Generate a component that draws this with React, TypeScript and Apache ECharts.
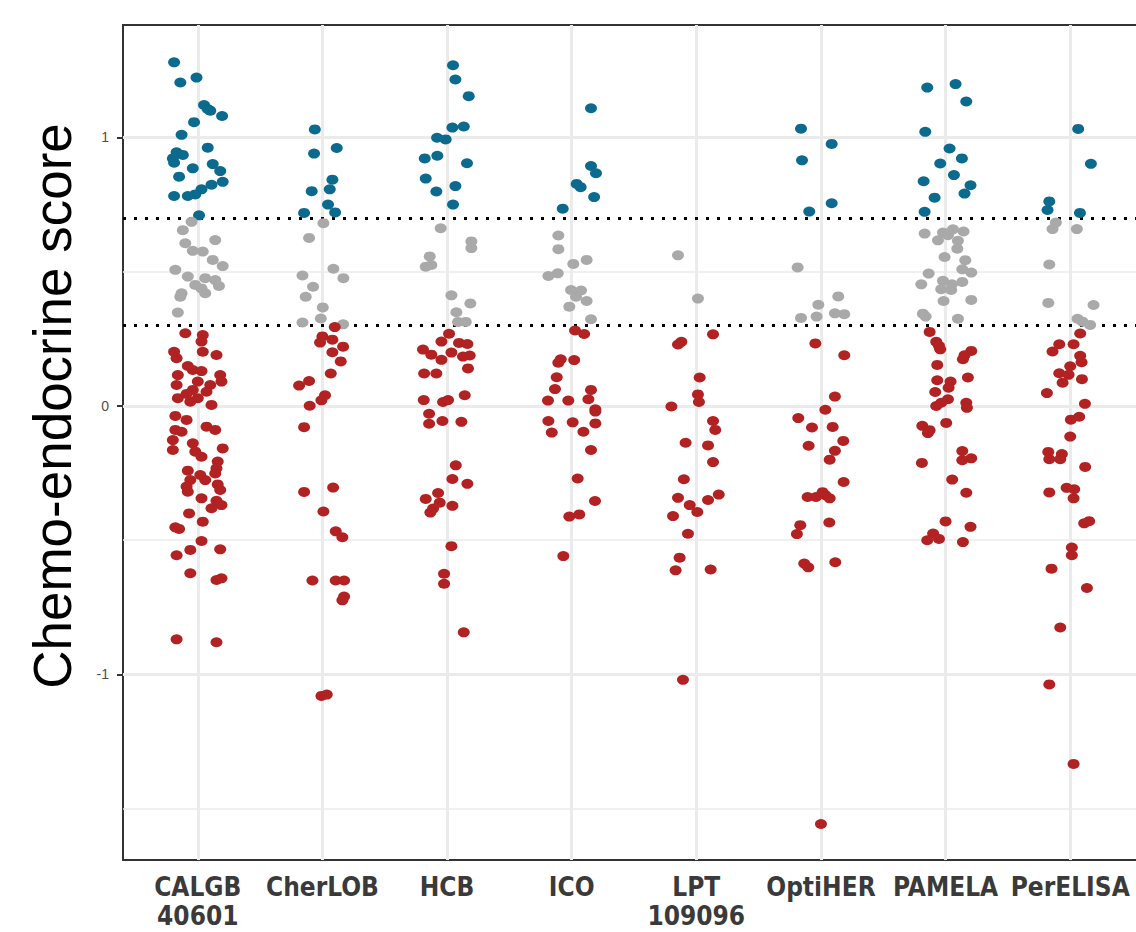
import React, { useEffect, useRef } from "react";
import * as echarts from "echarts";

// Study names (x categories)
const studies = ["CALGB\n40601", "CherLOB", "HCB", "ICO", "LPT\n109096", "OptiHER", "PAMELA", "PerELISA"];
const categoryPositions = [1, 2, 3, 4, 5, 6, 7, 8];

// Y axis
const yTicks = [-1, 0, 1];
const yMinorGrid = [-1.5, -0.5, 0.5];
const yRange = [-1.691, 1.419];
const xRange = [0.4, 8.6];
const cutoffs = [0.3, 0.7];
const yTitle = "Chemo-endocrine score";

// Each point: [horizontal jitter (in category units), chemo-endocrine score]
const calgb: number[][] = [
  [-0.19, 1.28], [-0.14, 1.205], [-0.01, 1.223], [0.05, 1.121], [0.08, 1.106], [0.10, 1.10], [0.195, 1.08],
  [-0.03, 1.057], [-0.13, 1.01], [0.08, 0.962], [-0.17, 0.945], [-0.12, 0.935], [-0.20, 0.922], [-0.19, 0.906],
  [0.12, 0.901], [-0.04, 0.885], [0.18, 0.875], [-0.15, 0.854], [0.20, 0.835], [0.11, 0.824], [0.03, 0.807],
  [-0.02, 0.788], [-0.08, 0.782], [-0.19, 0.782], [0.01, 0.71],
  [-0.05, 0.686], [-0.12, 0.655], [0.14, 0.618], [-0.10, 0.606], [-0.04, 0.578], [0.04, 0.575], [0.12, 0.544],
  [0.20, 0.521], [-0.18, 0.507], [-0.08, 0.482], [0.06, 0.476], [0.14, 0.469], [-0.02, 0.451], [0.17, 0.447],
  [0.03, 0.438], [-0.13, 0.42], [0.06, 0.42], [-0.14, 0.407], [-0.16, 0.348],
  [-0.10, 0.271], [0.04, 0.264], [0.03, 0.24], [-0.19, 0.202], [0.04, 0.202], [0.15, 0.19], [-0.17, 0.178],
  [-0.08, 0.149], [-0.04, 0.134], [0.03, 0.13], [0.18, 0.115], [-0.16, 0.115], [0.00, 0.091], [0.19, 0.091],
  [-0.17, 0.078], [0.10, 0.078], [-0.04, 0.06], [0.07, 0.053], [-0.09, 0.045], [-0.16, 0.029], [0.00, 0.029],
  [0.11, 0.004], [-0.06, 0.016], [-0.18, -0.037], [-0.09, -0.052], [-0.18, -0.089], [-0.13, -0.096],
  [0.07, -0.077], [0.14, -0.089], [-0.20, -0.127], [-0.04, -0.139], [0.20, -0.158], [-0.20, -0.164],
  [-0.02, -0.17], [0.03, -0.189], [0.16, -0.207], [0.15, -0.232], [-0.08, -0.241], [0.14, -0.251],
  [0.02, -0.257], [0.06, -0.276], [-0.06, -0.276], [0.16, -0.292], [-0.09, -0.30], [0.18, -0.313],
  [-0.08, -0.319], [0.03, -0.344], [0.15, -0.353], [0.19, -0.369], [0.11, -0.381], [-0.07, -0.40],
  [0.04, -0.431], [-0.18, -0.452], [-0.15, -0.458], [0.03, -0.503], [-0.06, -0.536], [0.18, -0.534],
  [-0.17, -0.556], [-0.06, -0.623], [0.15, -0.648], [0.19, -0.642], [-0.17, -0.869], [0.15, -0.88],
];

const cherlob: number[][] = [
  [-0.061, 1.03], [0.115, 0.961], [-0.067, 0.94], [0.08, 0.843], [-0.086, 0.80], [0.059, 0.807], [0.045, 0.75],
  [0.102, 0.721], [-0.147, 0.719],
  [0.008, 0.681], [-0.107, 0.626], [0.088, 0.511], [-0.16, 0.486], [0.168, 0.476], [-0.075, 0.444],
  [-0.134, 0.407], [0.003, 0.367], [-0.013, 0.326], [-0.16, 0.311], [0.166, 0.304],
  [0.099, 0.294], [0.0, 0.259], [0.08, 0.247], [-0.019, 0.236], [0.166, 0.221], [0.08, 0.20], [0.147, 0.166],
  [0.067, 0.121], [-0.107, 0.093], [-0.187, 0.076], [0.021, 0.04], [-0.008, 0.021], [-0.102, 0.001],
  [-0.147, -0.079], [0.086, -0.304], [-0.147, -0.32], [0.008, -0.393], [0.107, -0.467], [0.16, -0.489],
  [-0.08, -0.65], [0.107, -0.65], [0.174, -0.65], [0.174, -0.71], [0.16, -0.724], [-0.008, -1.08], [0.035, -1.075],
];

const hcb: number[][] = [
  [0.048, 1.269], [0.067, 1.216], [0.174, 1.154], [0.043, 1.037], [0.134, 1.041], [-0.08, 0.999], [-0.011, 0.993],
  [-0.179, 0.922], [-0.078, 0.932], [0.16, 0.904], [-0.171, 0.847], [-0.086, 0.799], [0.067, 0.819], [0.048, 0.75],
  [-0.051, 0.662], [0.195, 0.613], [0.195, 0.588], [-0.139, 0.557], [-0.171, 0.519], [-0.126, 0.525],
  [0.035, 0.412], [0.187, 0.382], [0.075, 0.349], [0.088, 0.313], [0.15, 0.313],
  [0.016, 0.269], [-0.045, 0.24], [0.096, 0.235], [0.163, 0.231], [-0.193, 0.21], [-0.126, 0.191], [0.035, 0.199],
  [-0.045, 0.172], [0.182, 0.188], [0.128, 0.184], [-0.184, 0.121], [-0.086, 0.121], [0.168, 0.14],
  [-0.187, 0.022], [-0.032, 0.015], [0.008, 0.022], [0.142, 0.04], [-0.144, -0.029], [-0.144, -0.066],
  [-0.037, -0.056], [0.115, -0.059], [0.07, -0.221], [0.043, -0.272], [0.163, -0.29], [-0.072, -0.324],
  [-0.171, -0.346], [-0.059, -0.36], [-0.112, -0.382], [0.043, -0.372], [-0.134, -0.397], [0.035, -0.522],
  [-0.024, -0.625], [-0.024, -0.662], [0.134, -0.843],
];

const ico: number[][] = [
  [0.155, 1.109], [0.155, 0.894], [0.195, 0.867], [0.04, 0.827], [0.072, 0.815], [0.18, 0.778], [-0.072, 0.735],
  [-0.107, 0.635], [-0.107, 0.584], [0.12, 0.544], [0.013, 0.529], [-0.112, 0.494], [-0.187, 0.484],
  [-0.005, 0.432], [0.075, 0.43], [0.035, 0.407], [0.12, 0.391], [-0.019, 0.37], [0.155, 0.323],
  [0.027, 0.281], [0.10, 0.268], [-0.088, 0.174], [-0.107, 0.161], [0.02, 0.171], [-0.12, 0.107],
  [-0.134, 0.063], [0.155, 0.06], [-0.19, 0.02], [-0.027, 0.02], [0.134, 0.025], [0.19, -0.012], [0.19, -0.021],
  [-0.187, -0.056], [0.008, -0.061], [0.19, -0.065], [-0.16, -0.099], [0.094, -0.096], [0.155, -0.164],
  [0.048, -0.27], [0.187, -0.354], [0.061, -0.404], [-0.019, -0.412], [-0.067, -0.559],
];

const lpt: number[][] = [
  [-0.147, 0.561], [0.013, 0.40],
  [0.134, 0.267], [-0.12, 0.239], [-0.147, 0.229], [0.027, 0.106], [0.013, 0.043], [0.021, 0.015],
  [-0.20, -0.002], [0.134, -0.056], [0.152, -0.089], [-0.086, -0.137], [0.094, -0.147], [0.134, -0.209],
  [-0.10, -0.273], [-0.147, -0.342], [-0.053, -0.369], [0.094, -0.35], [0.18, -0.33], [0.008, -0.395],
  [-0.187, -0.41], [-0.067, -0.476], [-0.134, -0.565], [-0.166, -0.612], [0.115, -0.609], [-0.107, -1.02],
];

const optiher: number[][] = [
  [-0.16, 1.033], [0.086, 0.976], [-0.152, 0.915], [0.086, 0.755], [-0.094, 0.724],
  [-0.187, 0.516], [0.139, 0.408], [-0.021, 0.377], [-0.16, 0.328], [-0.035, 0.333], [0.112, 0.345], [0.187, 0.342],
  [-0.045, 0.233], [0.187, 0.189], [0.112, 0.035], [0.035, -0.014], [-0.182, -0.045], [-0.072, -0.08],
  [0.094, -0.078], [0.179, -0.13], [-0.099, -0.148], [0.112, -0.167], [0.07, -0.20], [0.182, -0.283],
  [-0.107, -0.339], [-0.04, -0.339], [0.013, -0.321], [0.035, -0.332], [0.07, -0.344], [0.067, -0.434],
  [-0.166, -0.444], [-0.193, -0.477], [-0.134, -0.587], [-0.102, -0.601], [0.115, -0.582], [0.0, -1.557],
];

const pamela: number[][] = [
  [-0.147, 1.186], [0.08, 1.199], [0.166, 1.134], [-0.163, 1.021], [0.032, 0.959], [-0.043, 0.903], [0.131, 0.922],
  [0.067, 0.86], [-0.176, 0.837], [0.20, 0.822], [0.152, 0.791], [-0.088, 0.776], [-0.168, 0.723],
  [-0.168, 0.642], [-0.021, 0.646], [0.059, 0.658], [0.144, 0.65], [-0.061, 0.617], [0.019, 0.636],
  [0.099, 0.615], [0.094, 0.586], [-0.008, 0.555], [0.158, 0.543], [0.134, 0.509], [0.206, 0.497],
  [-0.136, 0.493], [-0.195, 0.453], [-0.021, 0.466], [0.051, 0.453], [0.134, 0.462], [-0.035, 0.435],
  [0.045, 0.432], [-0.016, 0.391], [0.206, 0.395], [-0.182, 0.344], [-0.16, 0.333], [0.099, 0.325],
  [-0.128, 0.276], [-0.075, 0.239], [-0.053, 0.224], [-0.043, 0.211], [0.206, 0.205], [0.152, 0.189],
  [0.139, 0.174], [-0.067, 0.153], [0.179, 0.106], [-0.067, 0.096], [0.04, 0.091], [0.024, 0.068],
  [-0.083, 0.052], [0.019, 0.025], [-0.035, 0.012], [-0.075, 0.0], [0.166, 0.012], [0.171, -0.007],
  [0.005, -0.063], [-0.187, -0.074], [-0.142, -0.101], [-0.128, -0.09], [0.134, -0.168], [0.134, -0.202],
  [0.206, -0.195], [-0.19, -0.212], [0.053, -0.274], [0.166, -0.323], [0.0, -0.43], [0.20, -0.45],
  [-0.10, -0.475], [-0.053, -0.495], [-0.147, -0.50], [0.139, -0.507],
];

const perelisa: number[][] = [
  [0.064, 1.032], [0.166, 0.902], [-0.168, 0.762], [-0.182, 0.73], [0.078, 0.719],
  [-0.115, 0.683], [-0.142, 0.659], [0.053, 0.659], [-0.168, 0.527], [-0.176, 0.384], [0.187, 0.376],
  [0.059, 0.325], [0.099, 0.314], [0.16, 0.302],
  [0.08, 0.27], [-0.088, 0.23], [0.027, 0.23], [-0.142, 0.203], [0.08, 0.187], [0.091, 0.163], [-0.088, 0.122],
  [0.0, 0.148], [-0.013, 0.116], [-0.061, 0.087], [0.094, 0.10], [-0.187, 0.048], [0.118, 0.008],
  [0.072, -0.04], [0.005, -0.051], [0.0, -0.114], [-0.176, -0.171], [-0.168, -0.198], [-0.067, -0.179],
  [-0.08, -0.198], [0.12, -0.227], [-0.168, -0.322], [-0.029, -0.305], [0.032, -0.31], [0.027, -0.344],
  [0.112, -0.437], [0.152, -0.429], [0.013, -0.527], [0.013, -0.556], [-0.15, -0.606], [0.134, -0.678],
  [-0.08, -0.825], [-0.168, -1.037], [0.027, -1.333],
];

const studyPoints = [calgb, cherlob, hcb, ico, lpt, optiher, pamela, perelisa];

const COLORS = { high: "#0b6a8d", mid: "#a9a9a9", low: "#b22222" };
const GRID_COLOR = "#ebebeb";
const FONT = "'Liberation Sans', Arial, sans-serif";
const NARROW = "'Liberation Sans Narrow', 'Arial Narrow', 'DejaVu Sans Condensed', sans-serif";

export default function App() {
  const ref = useRef<HTMLDivElement>(null);

  useEffect(() => {
    if (!ref.current) return;
    document.body.style.margin = "0";
    const chart = echarts.init(ref.current, null, { renderer: "svg" });

    const high: number[][] = [];
    const mid: number[][] = [];
    const low: number[][] = [];
    studyPoints.forEach((pts, i) => {
      pts.forEach(([dx, y]) => {
        const p = [categoryPositions[i] + dx, y];
        if (y >= cutoffs[1]) high.push(p);
        else if (y >= cutoffs[0]) mid.push(p);
        else low.push(p);
      });
    });

    const gridLines: any[] = [
      ...yTicks.map((v) => ({ yAxis: v, lineStyle: { color: GRID_COLOR, width: 3, type: "solid" } })),
      ...yMinorGrid.map((v) => ({ yAxis: v, lineStyle: { color: GRID_COLOR, width: 1.5, type: "solid" } })),
      ...categoryPositions.map((v) => ({ xAxis: v, lineStyle: { color: GRID_COLOR, width: 3, type: "solid" } })),
    ];

    const scatter = (name: string, data: number[][], color: string) => ({
      name,
      type: "scatter",
      data,
      symbol: "circle",
      symbolSize: [12, 10],
      itemStyle: { color, opacity: 1 },
      z: 5,
      silent: true,
    });

    chart.setOption({
      animation: false,
      backgroundColor: "#ffffff",
      grid: {
        left: 123,
        top: 25,
        right: 5,
        bottom: 72,
        containLabel: false,
        outerBoundsMode: "none",
        show: true,
        borderColor: "#333333",
        borderWidth: 2,
        backgroundColor: "transparent",
      },
      graphic: [
        {
          type: "text",
          x: 52,
          y: 406,
          rotation: Math.PI / 2,
          silent: true,
          style: {
            text: yTitle,
            fontSize: 53,
            fontFamily: FONT,
            fill: "#000000",
            align: "center",
            verticalAlign: "middle",
          },
        },
      ],
      xAxis: {
        type: "value",
        min: xRange[0],
        max: xRange[1],
        axisLine: { show: false },
        splitLine: { show: false },
        axisTick: {
          show: true,
          customValues: categoryPositions,
          length: 6,
          lineStyle: { color: "#333333", width: 2 },
        },
        axisLabel: {
          customValues: categoryPositions,
          formatter: (v: number) => studies[Math.round(v) - 1] ?? "",
          fontSize: 26,
          fontWeight: "bold",
          fontFamily: NARROW,
          color: "#3a3a3a",
          lineHeight: 29,
          margin: 12,
          hideOverlap: false,
        },
      },
      yAxis: {
        type: "value",
        min: yRange[0],
        max: yRange[1],
        axisLine: { show: false },
        splitLine: { show: false },
        axisTick: {
          show: true,
          customValues: yTicks,
          length: 6,
          lineStyle: { color: "#333333", width: 2 },
        },
        axisLabel: {
          customValues: yTicks,
          fontSize: 14,
          color: "#4d4d4d",
          fontFamily: FONT,
          margin: 14,
        },
      },
      series: [
        {
          type: "line",
          data: [],
          silent: true,
          z: 1,
          markLine: {
            silent: true,
            symbol: ["none", "none"],
            label: { show: false },
            animation: false,
            data: gridLines,
          },
        },
        scatter("High", high, COLORS.high),
        scatter("Intermediate", mid, COLORS.mid),
        scatter("Low", low, COLORS.low),
        {
          type: "line",
          data: [],
          silent: true,
          z: 10,
          markLine: {
            silent: true,
            symbol: ["none", "none"],
            label: { show: false },
            animation: false,
            lineStyle: { color: "#000000", width: 3, type: [3, 8] },
            data: cutoffs.map((v) => ({ yAxis: v })),
          },
        },
      ],
    });

    return () => chart.dispose();
  }, []);

  return (
    <div
      style={{ position: "absolute", left: 0, top: 0, width: 1136, height: 932, overflow: "hidden", background: "#fff" }}
    >
      <div ref={ref} style={{ width: 1150, height: 932 }} />
    </div>
  );
}
